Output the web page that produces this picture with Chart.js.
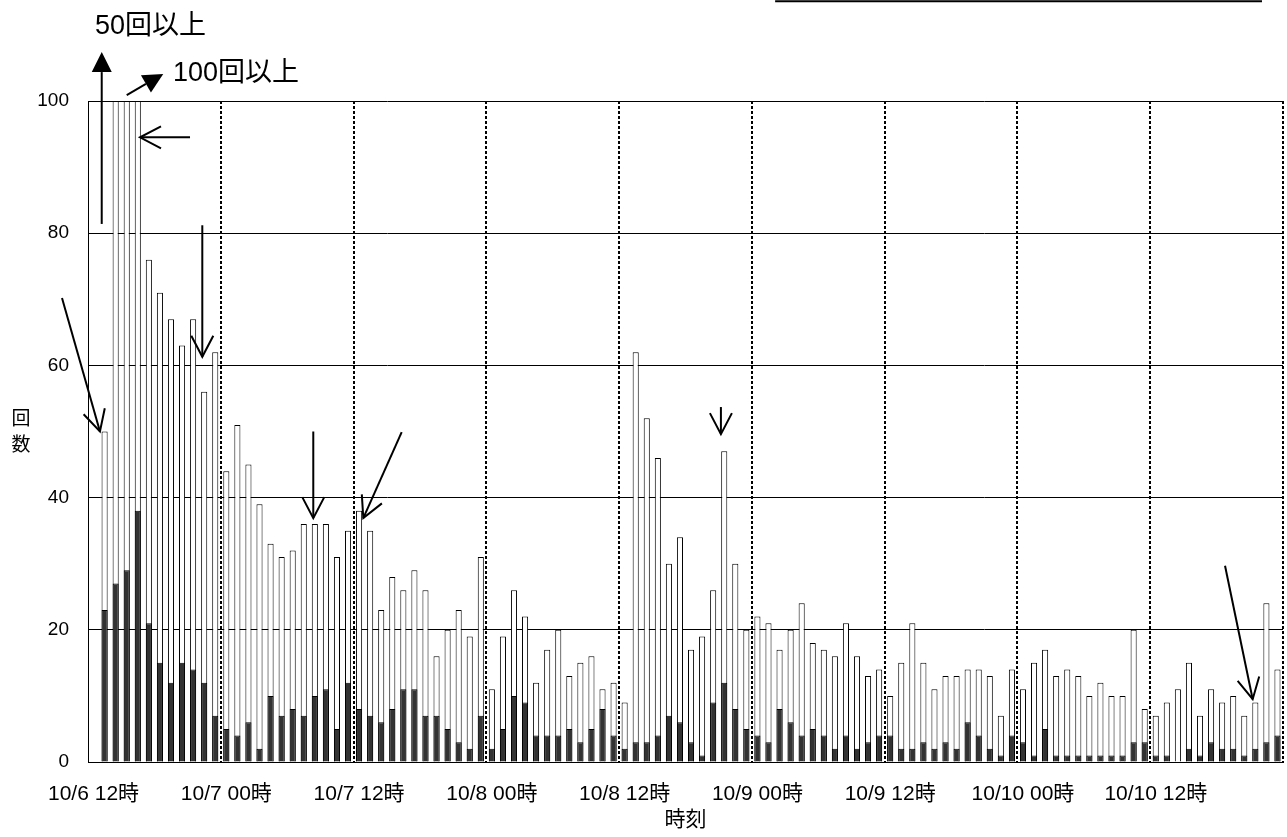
<!DOCTYPE html>
<html>
<head>
<meta charset="utf-8">
<script src="https://cdn.jsdelivr.net/npm/chart.js@4.4.0/dist/chart.umd.min.js"></script>
<style>
  html, body { margin: 0; padding: 0; background: #fff; }
  #wrap { width: 1287px; height: 837px; }
</style>
</head>
<body>
<div id="wrap"><canvas id="chart" width="1287" height="837"></canvas></div>
<script>
// hourly categories, 10/6 12時 .. 10/10 23時
const days = ['10/6', '10/7', '10/8', '10/9', '10/10'];
const firstHour = 12;
const hourCount = 108;

// white bars: all counts per hour (first hour empty, 100 = "100回以上")
const totalCounts = [
  null, 50, 100, 100, 100, 76, 71, 67, 63, 67, 56, 62,
  44, 51, 45, 39, 33, 31, 32, 36, 36, 36, 31, 35,
  38, 35, 23, 28, 26, 29, 26, 16, 20, 23, 19, 31,
  11, 19, 26, 22, 12, 17, 20, 13, 15, 16, 11, 12,
  9, 62, 52, 46, 30, 34, 17, 19, 26, 47, 30, 20,
  22, 21, 17, 20, 24, 18, 17, 16, 21, 16, 13, 14,
  10, 15, 21, 15, 11, 13, 13, 14, 14, 13, 7, 14,
  11, 15, 17, 13, 14, 13, 10, 12, 10, 10, 20, 8,
  7, 9, 11, 15, 7, 11, 9, 10, 7, 9, 24, 14
];
// black bars: part of the counts
const blackCounts = [
  null, 23, 27, 29, 38, 21, 15, 12, 15, 14, 12, 7,
  5, 4, 6, 2, 10, 7, 8, 7, 10, 11, 5, 12,
  8, 7, 6, 8, 11, 11, 7, 7, 5, 3, 2, 7,
  2, 5, 10, 9, 4, 4, 4, 5, 3, 5, 8, 4,
  2, 3, 3, 4, 7, 6, 3, 1, 9, 12, 8, 5,
  4, 3, 8, 6, 4, 5, 4, 2, 4, 2, 3, 4,
  4, 2, 2, 3, 2, 3, 2, 6, 4, 2, 1, 4,
  3, 1, 5, 1, 1, 1, 1, 1, 1, 1, 3, 3,
  1, 1, 0, 2, 1, 3, 2, 2, 1, 2, 3, 4
];
const yMax = 100;
const yStep = 20;
const labelEvery = 12;

// notes drawn on top, in [category, value] units
const arrowMarks = [
  { from: [0.74, 81.4], to: [0.74, 107.4], head: 'fill' },
  { from: [3.0, 100.9], to: [6.3, 104.1], head: 'fill' },
  { from: [8.72, 94.5], to: [4.2, 94.5], head: 'open' },
  { from: [-2.85, 70.2], to: [0.58, 50.0], head: 'open' },
  { from: [9.83, 81.2], to: [9.83, 61.3], head: 'open' },
  { from: [19.86, 50.0], to: [19.86, 36.9], head: 'open' },
  { from: [27.85, 49.9], to: [24.38, 36.9], head: 'open' },
  { from: [56.7, 53.7], to: [56.7, 49.6], head: 'open' },
  { from: [102.26, 29.7], to: [104.76, 9.5], head: 'open' }
];
const noteTexts = [
  { text: '50回以上', at: [0.13, 111.2] },
  { text: '100回以上', at: [7.18, 104.2] }
];
const topRule = { from: [61.6, 115.1], to: [105.6, 115.1] };

const FONT = '"Liberation Sans", "Noto Sans CJK JP", sans-serif';
Chart.defaults.font.family = FONT;
Chart.defaults.color = '#000';

const categories = [];
for (let i = 0; i < hourCount; i++) {
  const h = firstHour + i;
  categories.push(days[Math.floor(h / 24)] + ' ' + String(h % 24).padStart(2, '0') + '時');
}

const notesPlugin = {
  id: 'notes',
  afterDraw(chart) {
    const { ctx, chartArea, scales: { x, y } } = chart;
    const px = p => [x.getPixelForValue(p[0]), y.getPixelForValue(p[1])];
    ctx.save();
    ctx.strokeStyle = '#000';
    ctx.fillStyle = '#000';
    ctx.lineWidth = 2;
    arrowMarks.forEach(a => {
      const [x1, y1] = px(a.from);
      const [x2, y2] = px(a.to);
      const ang = Math.atan2(y2 - y1, x2 - x1);
      const len = a.head === 'fill' ? 20 : 21;
      const half = a.head === 'fill' ? 10 : 11;
      const bx = x2 - Math.cos(ang) * len, by = y2 - Math.sin(ang) * len;
      const nx = -Math.sin(ang) * half, ny = Math.cos(ang) * half;
      ctx.beginPath();
      ctx.moveTo(x1, y1);
      if (a.head === 'fill') ctx.lineTo(bx, by); else ctx.lineTo(x2, y2);
      ctx.stroke();
      ctx.beginPath();
      if (a.head === 'fill') {
        ctx.moveTo(x2, y2);
        ctx.lineTo(bx + nx, by + ny);
        ctx.lineTo(bx - nx, by - ny);
        ctx.closePath();
        ctx.fill();
      } else {
        ctx.moveTo(bx + nx, by + ny);
        ctx.lineTo(x2, y2);
        ctx.lineTo(bx - nx, by - ny);
        ctx.stroke();
      }
    });
    ctx.font = '27px ' + FONT;
    ctx.textAlign = 'left';
    ctx.textBaseline = 'middle';
    noteTexts.forEach(t => {
      const [tx, ty] = px(t.at);
      ctx.fillText(t.text, tx, ty);
    });
    const [rx1, ry] = px(topRule.from);
    const [rx2] = px(topRule.to);
    ctx.lineWidth = 2;
    ctx.beginPath();
    ctx.moveTo(rx1, ry);
    ctx.lineTo(rx2, ry);
    ctx.stroke();

    // axis titles
    ctx.textAlign = 'center';
    ctx.font = '21px ' + FONT;
    ctx.fillText('時刻', (chartArea.left + chartArea.right) / 2, chartArea.bottom + 58);
    ctx.font = '19px ' + FONT;
    const midY = (chartArea.top + chartArea.bottom) / 2;
    ctx.fillText('回', chartArea.left - 67, midY - 12);
    ctx.fillText('数', chartArea.left - 67, midY + 14);
    ctx.restore();
  }
};

new Chart(document.getElementById('chart'), {
  type: 'bar',
  data: {
    labels: categories,
    datasets: [
      {
        label: '黒',
        data: blackCounts,
        backgroundColor: '#333333',
        borderColor: '#000',
        borderWidth: 1,
        grouped: false,
        barPercentage: 0.55,
        categoryPercentage: 1,
        order: 1
      },
      {
        label: '全体',
        data: totalCounts,
        backgroundColor: '#ffffff',
        borderColor: '#000',
        borderWidth: 1,
        grouped: false,
        barPercentage: 0.55,
        categoryPercentage: 1,
        order: 2
      }
    ]
  },
  options: {
    responsive: false,
    animation: false,
    devicePixelRatio: 1,
    layout: { padding: { top: 101, right: 4, left: 0, bottom: 0 } },
    plugins: { legend: { display: false }, tooltip: { enabled: false } },
    scales: {
      x: {
        offset: true,
        grid: {
          offset: true,
          drawTicks: false,
          lineWidth: 2,
          color: c => (c.index === undefined || (c.index > 0 && c.index % labelEvery === 0)) ? '#000' : 'rgba(0,0,0,0)'
        },
        border: { display: true, color: '#000', width: 1, dash: [3, 2] },
        ticks: {
          autoSkip: false,
          maxRotation: 0,
          minRotation: 0,
          padding: 20,
          font: { size: 21 },
          color: '#000',
          callback: (v, i) => i % labelEvery === 0 ? categories[i] : ''
        },
        afterFit: s => { s.height = 75; s.paddingLeft = 0; s.paddingRight = 0; }
      },
      y: {
        min: 0,
        max: yMax,
        ticks: { stepSize: yStep, padding: 19, font: { size: 19 }, color: '#000' },
        grid: { color: '#000', lineWidth: 1, drawTicks: false },
        border: { display: true, color: '#000', width: 1 },
        afterFit: s => { s.width = 88; }
      }
    }
  },
  plugins: [notesPlugin]
});
</script>
</body>
</html>
